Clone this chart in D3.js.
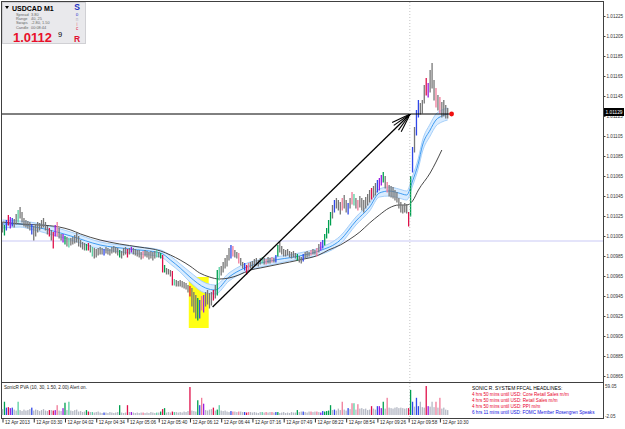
<!DOCTYPE html>
<html><head><meta charset="utf-8">
<script src="https://cdn.jsdelivr.net/npm/d3@7"></script>
<style>body{margin:0;background:#fff}svg{display:block}text{font-family:"Liberation Sans",Arial,sans-serif}</style>
</head><body><svg id="c" width="625" height="429"></svg>
<script>
// ---------- data ----------
const symbolName = "USDCAD", timeframe = "M1";
const highs = [
1.01019,1.01016,1.01021,1.01026,1.01024,1.01023,1.01022,1.01027,1.01031,1.01034,
1.01029,1.01023,1.01021,1.01020,1.01019,1.01017,1.01015,1.01016,1.01019,1.01018,
1.01021,1.01023,1.01019,1.01015,1.01013,1.01011,1.01009,1.01016,1.01019,1.01013,
1.01007,1.01007,1.01005,1.01004,1.01003,1.01003,1.01004,1.01006,1.01008,1.01005,
1.01001,1.00999,1.00998,1.00997,1.00998,1.00996,1.00994,1.00993,1.00992,1.00993,
1.00994,1.00993,1.00992,1.00994,1.00993,1.00992,1.00994,1.00995,1.00994,1.00993,
1.00991,1.00990,1.00993,1.00994,1.00992,1.00993,1.00994,1.00993,1.00992,1.00991,
1.00991,1.00989,1.00990,1.00991,1.00990,1.00989,1.00990,1.00989,1.00990,1.00991,
1.00989,1.00988,1.00986,1.00976,1.00973,1.00972,1.00971,1.00970,1.00962,1.00961,
1.00960,1.00961,1.00960,1.00959,1.00958,1.00956,1.00955,1.00953,1.00949,1.00946,
1.00943,1.00941,1.00945,1.00946,1.00949,1.00951,1.00948,1.00949,1.00951,1.00956,
1.00971,1.00974,1.00975,1.00979,1.00983,1.00986,1.00993,1.00996,1.00995,1.00991,
1.00989,1.00988,1.00983,1.00979,1.00978,1.00976,1.00978,1.00979,1.00980,1.00982,
1.00983,1.00981,1.00983,1.00984,1.00983,1.00982,1.00984,1.00983,1.00984,1.00983,
1.00986,1.00996,1.00999,1.00995,1.00992,1.00991,1.00992,1.00990,1.00989,1.00990,
1.00988,1.00987,1.00985,1.00984,1.00987,1.00989,1.00990,1.00989,1.00991,1.00992,
1.00991,1.00993,1.00997,1.00999,1.01001,1.01007,1.01013,1.01021,1.01029,1.01036,
1.01041,1.01043,1.01041,1.01039,1.01043,1.01046,1.01041,1.01038,1.01043,1.01049,
1.01047,1.01043,1.01041,1.01045,1.01043,1.01041,1.01044,1.01047,1.01051,1.01053,
1.01055,1.01058,1.01061,1.01063,1.01066,1.01069,1.01065,1.01059,1.01056,1.01055,
1.01054,1.01051,1.01049,1.01043,1.01039,1.01036,1.01038,1.01037,1.01029,1.01065,
1.01094,1.01114,1.01131,1.01141,1.01138,1.01141,1.01156,1.01163,1.01158,1.01171,
1.01178,1.01161,1.01153,1.01146,1.01144,1.01139,1.01141,1.01136,1.01133];
const lows = [
1.01009,1.01006,1.01011,1.01016,1.01013,1.01015,1.01014,1.01017,1.01019,1.01023,
1.01019,1.01015,1.01014,1.01013,1.01011,1.01007,1.01001,1.01005,1.01009,1.01011,
1.01013,1.01014,1.01011,1.01007,1.01005,1.01001,1.00993,1.01005,1.01005,1.01003,
1.01001,1.00999,1.00997,1.00995,1.00994,1.00996,1.00997,1.00998,1.00999,1.00995,
1.00994,1.00992,1.00991,1.00991,1.00991,1.00989,1.00985,1.00983,1.00984,1.00986,
1.00987,1.00987,1.00986,1.00988,1.00987,1.00986,1.00988,1.00989,1.00988,1.00986,
1.00984,1.00983,1.00986,1.00987,1.00984,1.00987,1.00989,1.00987,1.00986,1.00985,
1.00984,1.00982,1.00983,1.00985,1.00984,1.00982,1.00983,1.00981,1.00983,1.00984,
1.00984,1.00983,1.00969,1.00969,1.00967,1.00967,1.00965,1.00956,1.00956,1.00955,
1.00955,1.00955,1.00954,1.00953,1.00952,1.00949,1.00945,1.00935,1.00929,1.00923,
1.00921,1.00923,1.00931,1.00929,1.00935,1.00937,1.00933,1.00936,1.00941,1.00943,
1.00946,1.00961,1.00966,1.00969,1.00973,1.00975,1.00981,1.00983,1.00985,1.00984,
1.00983,1.00978,1.00976,1.00973,1.00971,1.00967,1.00971,1.00973,1.00973,1.00975,
1.00976,1.00975,1.00977,1.00978,1.00977,1.00977,1.00978,1.00978,1.00979,1.00979,
1.00979,1.00985,1.00989,1.00987,1.00985,1.00985,1.00986,1.00984,1.00983,1.00984,
1.00983,1.00981,1.00979,1.00978,1.00980,1.00983,1.00984,1.00985,1.00986,1.00987,
1.00987,1.00985,1.00989,1.00991,1.00993,1.00996,1.01003,1.01008,1.01016,1.01023,
1.01029,1.01033,1.01031,1.01027,1.01031,1.01033,1.01029,1.01027,1.01033,1.01037,
1.01036,1.01033,1.01031,1.01034,1.01031,1.01029,1.01033,1.01036,1.01039,1.01042,
1.01044,1.01046,1.01049,1.01051,1.01056,1.01059,1.01053,1.01049,1.01045,1.01044,
1.01043,1.01041,1.01039,1.01033,1.01029,1.01028,1.01029,1.01028,1.01015,1.01025,
1.01069,1.01089,1.01106,1.01124,1.01127,1.01128,1.01138,1.01146,1.01144,1.01149,
1.01153,1.01141,1.01134,1.01131,1.01128,1.01124,1.01125,1.01123,1.01123];
const volumes = [
12,27,15,16,14,15,11,9,27,10, 8,11,9,10,12,15,9,11,10,8, 10,12,9,8,10,10,9,10,20,9,
8,14,25,10,27,9,8,10,11,7, 8,6,7,10,7,6,6,5,6,7, 5,4,5,5,4,6,5,4,5,6,
20,5,4,5,20,6,6,5,4,5, 4,5,5,4,5,4,6,5,4,5, 5,7,12,14,5,6,5,7,6,6,
5,6,5,7,6,8,57,9,8,7, 30,20,35,23,10,9,11,12,15,9, 11,20,9,8,9,7,6,8,7,7,
6,7,7,6,6,5,6,6,5,6, 5,4,6,6,5,6,5,6,6,5, 6,6,4,5,6,4,5,4,6,5,
5,10,6,7,7,6,5,7,7,6, 7,7,6,5,8,7,8,9,20,10, 11,9,13,10,27,11,9,14,12,24,
24,11,22,13,14,12,13,10,11,18, 13,11,18,18,14,27,13,35,15,14, 13,15,16,14,15,14,13,14,14,51,
27,17,35,18,27,16,15,59,18,17, 27,16,27,15,35,13,15,11,10];
// PVA colour codes: g climax up, r climax down, b rising up, m rising down, l/p lighter shades
const pvaColors = [[1,'g'],[2,'b'],[3,'r'],[4,'m'],[5,'b'],[8,'l'],[15,'b'],[24,'r'],[26,'r'],[27,'m'],[28,'p'],
[31,'m'],[32,'g'],[34,'l'],[43,'g'],[44,'r'],[46,'l'],[52,'b'],[60,'g'],[64,'r'],[66,'m'],[72,'p'],[79,'l'],
[81,'g'],[82,'r'],[83,'g'],[87,'r'],[88,'l'],[96,'r'],[100,'g'],[101,'b'],[102,'p'],[103,'m'],[108,'r'],
[110,'g'],[111,'l'],[117,'b'],[118,'p'],[121,'p'],[124,'b'],[125,'r'],[126,'p'],[133,'l'],[135,'p'],[138,'p'],
[140,'b'],[141,'g'],[151,'g'],[154,'b'],[158,'p'],[161,'p'],[163,'m'],[164,'b'],[165,'g'],[166,'g'],[167,'g'],
[168,'g'],[170,'b'],[174,'p'],[177,'b'],[179,'p'],[180,'l'],[182,'p'],[189,'r'],[192,'b'],[193,'m'],[194,'m'],
[195,'g'],[197,'p'],[208,'r'],[209,'g'],[210,'b'],[212,'b'],[213,'b'],[217,'r'],[218,'m'],[222,'p'],[224,'p']];
// slow MA (black)
const slowMaIdx = [0,9,19,29,35,40,50,60,70,81,86,91,96,101,106,111,116,121,127,132,142,152,162,167,173,178,183,188,193,198,203,207,210,213,219,225];
const slowMaVal = [1.01019,1.01017,1.01016,1.01014,1.01011,1.01007,1.01001,1.00997,1.00994,1.00990,1.00986,1.00981,1.00975,1.00968,1.00964,1.00962,1.00963,1.00966,1.00971,1.00973,1.00977,1.00981,1.00986,1.00991,1.00996,1.01002,1.01009,1.01018,1.01026,1.01033,1.01036,1.01036,1.01040,1.01051,1.01068,1.01091];
// fast MA band (blue)
const bandIdx = [0,9,14,24,35,50,65,81,86,91,96,104,109,116,124,137,152,162,173,181,188,193,198,203,207,210,213,215,219,222,225,228];
const bandHigh = [1.01021,1.01020,1.01019,1.01015,1.01009,1.00999,1.00995,1.00991,1.00985,1.00977,1.00969,1.00958,1.00956,1.00968,1.00977,1.00983,1.00988,1.00993,1.01005,1.01024,1.01038,1.01052,1.01054,1.01052,1.01050,1.01065,1.01083,1.01100,1.01117,1.01127,1.01131,1.01133];
const bandMid  = [1.01017,1.01017,1.01015,1.01011,1.01005,1.00996,1.00992,1.00988,1.00981,1.00973,1.00964,1.00953,1.00951,1.00964,1.00973,1.00980,1.00985,1.00990,1.01001,1.01020,1.01034,1.01048,1.01050,1.01048,1.01046,1.01060,1.01078,1.01095,1.01111,1.01121,1.01125,1.01127];
const bandLow  = [1.01013,1.01014,1.01012,1.01007,1.01001,1.00992,1.00988,1.00984,1.00977,1.00969,1.00959,1.00948,1.00947,1.00960,1.00969,1.00976,1.00982,1.00986,1.00997,1.01016,1.01030,1.01044,1.01045,1.01043,1.01041,1.01055,1.01073,1.01089,1.01105,1.01115,1.01119,1.01121];
const priceTicks = [1.00865,1.00885,1.00905,1.00925,1.00945,1.00965,1.00985,1.01005,1.01025,1.01045,1.01065,1.01085,1.01105,1.01125,1.01145,1.01165,1.01185,1.01205,1.01225];
const timeTickBars = [0,16,32,48,64,80,96,112,128,144,160,176,192,208,224];
const timeLabels = ["12 Apr 2013","12 Apr 03:30","12 Apr 04:02","12 Apr 04:34","12 Apr 05:06","12 Apr 05:40","12 Apr 06:12","12 Apr 06:44","12 Apr 07:16","12 Apr 07:49","12 Apr 08:22","12 Apr 08:54","12 Apr 09:26","12 Apr 09:58","12 Apr 10:30"];
const currentPrice = 1.01129;
const levelLine = 1.01127, roundLevel = 1.01000;
const arrowFrom = [107.6, 1.00934], arrowTo = [208.8, 1.01127];
const boxBars = [95.4, 105.6], boxPrices = [1.00913, 1.00964];
const markerBar = 230, cursorBar = 208.6;
const volTicks = [59.05, -2.05];
const infoLabels = ["Spread","Range","Swaps","Candle"];
const infoValues = ["3.80","40, 25","-2.80, 1.50","00:08:44"];
const headlines = [["SONIC R. SYSTEM  FFCAL HEADLINES:","#000"],
 ["4 hrs 50 mins until USD: Core Retail Sales m/m","#e8002a"],
 ["4 hrs 50 mins until USD: Retail Sales m/m","#e8002a"],
 ["4 hrs 50 mins until USD: PPI m/m","#e8002a"],
 ["6 hrs 11 mins until USD: FOMC Member Rosengren Speaks","#1010e0"]];

// ---------- drawing ----------
const svg = d3.select("#c");
const L=2, R=603, T=2, B=382, VT=383, VB=418;
const x = d3.scaleLinear().domain([0,228]).range([2.5, 447.7]);
const y = d3.scaleLinear().domain([1.00865,1.01225]).range([376,16]);
const yv = d3.scaleLinear().domain([-2.05,59.05]).range([416,386]);
const colorMap = {n:"#777777",g:"#00a050",r:"#e0104a",b:"#3048e8",m:"#9a1ee0",l:"#58d0a0",p:"#f07a98"};
const volGrey = "#b4b8c4";
const codes = new Array(highs.length).fill('n');
pvaColors.forEach(([i,c])=>codes[i]=c);

svg.append("rect").attr("width",625).attr("height",429).attr("fill","#fff");
const main = svg.append("g");
main.append("clipPath").attr("id","mc").append("rect").attr("x",L).attr("y",T).attr("width",R-L).attr("height",B-T);
const g = main.append("g").attr("clip-path","url(#mc)");

g.append("line").attr("x1",L).attr("x2",R).attr("y1",y(roundLevel)).attr("y2",y(roundLevel)).attr("stroke","#c9c9f5").attr("stroke-width",1);
svg.append("line").attr("x1",x(cursorBar)).attr("x2",x(cursorBar)).attr("y1",T).attr("y2",VB)
  .attr("stroke","#c4c4c4").attr("stroke-dasharray","1,2");
g.append("rect").attr("x",x(boxBars[0])).attr("width",x(boxBars[1])-x(boxBars[0]))
  .attr("y",y(boxPrices[1])).attr("height",y(boxPrices[0])-y(boxPrices[1])).attr("fill","#ffff14");
const bandData = bandIdx.map((b,k)=>({b,h:bandHigh[k],m:bandMid[k],l:bandLow[k]}));
g.append("path").datum(bandData).attr("fill","#d9ecff")
  .attr("d",d3.area().x(d=>x(d.b)).y0(d=>y(d.l)).y1(d=>y(d.h)).curve(d3.curveMonotoneX));
["h","l"].forEach(k=>g.append("path").datum(bandData).attr("fill","none").attr("stroke","#a6d0fa").attr("stroke-width",1)
  .attr("d",d3.line().x(d=>x(d.b)).y(d=>y(d[k])).curve(d3.curveMonotoneX)));
g.append("path").datum(bandData).attr("fill","none").attr("stroke","#3f9cf2").attr("stroke-width",1)
  .attr("d",d3.line().x(d=>x(d.b)).y(d=>y(d.m)).curve(d3.curveMonotoneX));
g.append("path").datum(slowMaIdx.map((b,k)=>[b,slowMaVal[k]])).attr("fill","none").attr("stroke","#333").attr("stroke-width",0.9)
  .attr("d",d3.line().x(d=>x(d[0])).y(d=>y(d[1])).curve(d3.curveMonotoneX));
g.selectAll("line.bar").data(highs.map((h,i)=>({i,h,l:lows[i],c:codes[i]}))).join("line").attr("class","bar")
  .attr("x1",d=>x(d.i)).attr("x2",d=>x(d.i)).attr("y1",d=>y(d.h)).attr("y2",d=>y(d.l)+0.5)
  .attr("stroke",d=>colorMap[d.c]).attr("stroke-width",1.3);
g.append("line").attr("x1",L).attr("x2",x(markerBar)).attr("y1",y(levelLine)).attr("y2",y(levelLine)).attr("stroke","#000").attr("stroke-width",1);
const ax1=x(arrowFrom[0]), ay1=y(arrowFrom[1]), ax2=x(arrowTo[0]), ay2=y(arrowTo[1]);
g.append("line").attr("x1",ax1).attr("y1",ay1).attr("x2",ax2).attr("y2",ay2).attr("stroke","#000").attr("stroke-width",1.3);
const ang = Math.atan2(ay1-ay2, ax1-ax2);
[-0.33,-0.17,0.17,0.33].forEach(da=>{
  g.append("line").attr("x1",ax2).attr("y1",ay2).attr("x2",ax2+20*Math.cos(ang+da)).attr("y2",ay2+20*Math.sin(ang+da))
   .attr("stroke","#000").attr("stroke-width",1.1);
});
g.append("circle").attr("cx",x(markerBar)).attr("cy",y(levelLine)).attr("r",2.4).attr("fill","#f01010");

svg.append("rect").attr("x",L-0.5).attr("y",T-0.5).attr("width",R-L+1).attr("height",B-T+1).attr("fill","none").attr("stroke","#404040");
svg.append("rect").attr("x",L-0.5).attr("y",VT-0.5).attr("width",R-L+1).attr("height",VB-VT+1).attr("fill","none").attr("stroke","#404040");

const ax = svg.append("g").attr("transform",`translate(${R+0.5},0)`)
  .call(d3.axisRight(y).tickValues(priceTicks).tickFormat(d3.format(".5f")).tickSize(2).tickPadding(1));
ax.select(".domain").remove();
ax.selectAll("text").attr("font-size",4.6).attr("fill","#333");
ax.selectAll("line").attr("stroke","#444");
svg.append("rect").attr("x",R+1).attr("y",y(currentPrice)-4).attr("width",20).attr("height",8).attr("fill","#000");
svg.append("text").attr("x",R+2.5).attr("y",y(currentPrice)+1.7).attr("font-size",4.8).attr("fill","#fff").text(currentPrice.toFixed(5));

// info box
const info = svg.append("g");
info.append("rect").attr("x",2.5).attr("y",2.5).attr("width",83).attr("height",41).attr("fill","#e9e9ec").attr("stroke","#d0d0d4");
info.append("path").attr("d","M5,6 L9,6 L7,9 Z").attr("fill","#000");
info.append("text").attr("x",12).attr("y",10.5).attr("font-size",7).attr("font-weight","bold").text(symbolName+"   "+timeframe);
infoLabels.forEach((t,k)=>{
  info.append("text").attr("x",16).attr("y",15.5+k*4.4).attr("font-size",3.9).attr("fill","#666").text(t);
  info.append("text").attr("x",31).attr("y",15.5+k*4.4).attr("font-size",3.9).attr("fill","#666").text(infoValues[k]);
});
const cp = currentPrice.toFixed(5);
info.append("text").attr("x",13).attr("y",42).attr("font-size",13).attr("font-weight","bold").attr("fill","#e8102a").text(cp.slice(0,6));
info.append("text").attr("x",58).attr("y",37).attr("font-size",7.5).attr("fill","#000").text(cp.slice(6));
info.append("text").attr("x",77).attr("y",9.5).attr("font-size",8.5).attr("font-weight","bold").attr("fill","#2030c0").attr("text-anchor","middle").text("S");
[["o","#3040d0"],["n","#b0b0c0"],["i","#e06080"],["c","#e02040"]].forEach(([t,c],k)=>
  info.append("text").attr("x",77).attr("y",16+k*4.8).attr("font-size",4.5).attr("fill",c).attr("text-anchor","middle").text(t));
info.append("text").attr("x",77).attr("y",41.5).attr("font-size",8.5).attr("font-weight","bold").attr("fill","#e01030").attr("text-anchor","middle").text("R");

// volume panel
const vg = svg.append("g");
vg.selectAll("rect.v").data(volumes.map((v,i)=>({i,v,c:codes[i]}))).join("rect").attr("class","v")
  .attr("x",d=>x(d.i)-0.65).attr("width",1.3).attr("y",d=>yv(d.v)).attr("height",d=>yv(0)-yv(d.v))
  .attr("fill",d=>d.c==='n'?volGrey:colorMap[d.c]);
vg.append("text").attr("x",4).attr("y",389).attr("font-size",4.6).attr("fill","#222").text("SonicR PVA  (10, 30, 1.50, 2.00)   Alert on.");
volTicks.forEach(v=>vg.append("text").attr("x",R+2).attr("y",yv(v)+1.5).attr("font-size",4.6).attr("fill","#333").text(v.toFixed(2)));
headlines.forEach(([t,c],k)=>vg.append("text").attr("x",472).attr("y",389.5+k*6).attr("font-size",k===0?4.9:4.6).attr("fill",c).text(t));

// time axis
const tx = svg.append("g").attr("transform",`translate(0,${VB+0.5})`)
  .call(d3.axisBottom(x).tickValues(timeTickBars).tickFormat((d,i)=>timeLabels[i]).tickSize(4));
tx.select(".domain").remove();
tx.selectAll("line").attr("stroke","#333");
tx.selectAll("text").attr("font-size",4.6).attr("fill","#222").attr("text-anchor","start").attr("dx",2).attr("y",2).attr("dy","0.71em");
</script></body></html>
